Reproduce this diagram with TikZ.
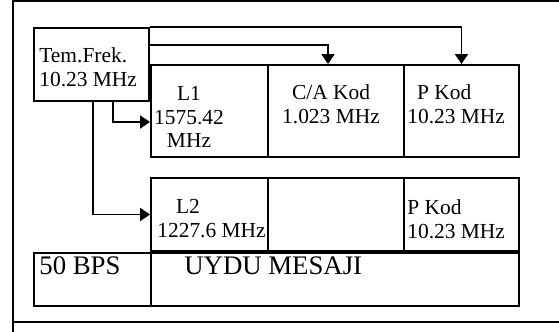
\documentclass[tikz,border=0pt]{standalone}
\usepackage{fontspec}
\setmainfont{Liberation Serif}
\usetikzlibrary{
  arrows.meta,
  calc,
  fit
}

\begin{document}
\begin{tikzpicture}[
    x=0.56pt, y=-0.56pt,
    kutu/.style={
    draw,
    line width=1.1pt,
    inner sep=0pt
    },
    yazi/.style={
    inner sep=0pt,
    font=\fontsize{12}{13.4}\selectfont
    },
    buyuk/.style={
    inner sep=0pt,
    font=\fontsize{15}{17}\selectfont
    },
    ok/.style={-{Triangle[length=5.6pt,width=7.3pt]},line width=1.1pt}
    ]

    \useasboundingbox (0,0) rectangle (559,332);

    % cerceve
    \draw[line width=1pt] (570,1) -- (13,1) -- (13,340);
    \draw[line width=1pt] (13,322) -- (570,322);

    \node[kutu, fit={(34,28) (149,101)}] (tem) {};
    \node[kutu, fit={(151,65) (268,157)}] (l1) {};
    \node[kutu, fit={(268,65) (404,157)}] (ca) {};
    \node[kutu, fit={(404,65) (519,157)}] (pk1) {};

    \node[kutu, fit={(151,178) (268,251)}] (l2) {};
    \node[kutu, fit={(268,178) (404,251)}] (bos) {};
    \node[kutu, fit={(404,178) (519,251)}] (pk2) {};

    \node[kutu, fit={(34,253) (151,306)}] (bps) {};
    \node[kutu, fit={(151,253) (519,306)}] (mesaj) {};

    \node[yazi, anchor=west, align=left] (temyazi) at (39,67)
    {Tem.Frek.\\10.23 MHz};
    \node[yazi, align=center] (l1yazi) at (189,117)
    {L1\\1575.42\\MHz};
    \node[yazi, align=center] (cayazi) at (331,104)
    {C/A Kod\\1.023 MHz};
    \node[yazi, anchor=west, align=left] (pk1yazi) at (407,104)
    {\hspace{5.5pt}P Kod\\10.23 MHz};
    \node[yazi, anchor=west, align=left] (l2yazi) at (157,219)
    {\hspace{10.5pt}L2\\1227.6 MHz};
    \node[yazi, anchor=west, align=left] (pk2yazi) at (407,219)
    {P Kod\\10.23 MHz};
    \node[buyuk, anchor=west] (bpsyazi) at (39,266)
    {50 BPS};
    \node[buyuk, anchor=west] (mesajyazi) at (184,266)
    {UYDU MESAJI};

    \draw[ok] (tem.north east) -| (pk1.north);
    \draw[ok] ($(tem.north east)+(0,18)$) -| ($(ca.north)+(-8,0)$);
    \draw[ok] ($(tem.south)+(21.5,0)$) |- ($(l1.west)+(0,11)$);
    \draw[ok] ($(tem.south)+(1.5,0)$) |- (l2.west);

\end{tikzpicture}
\end{document}
